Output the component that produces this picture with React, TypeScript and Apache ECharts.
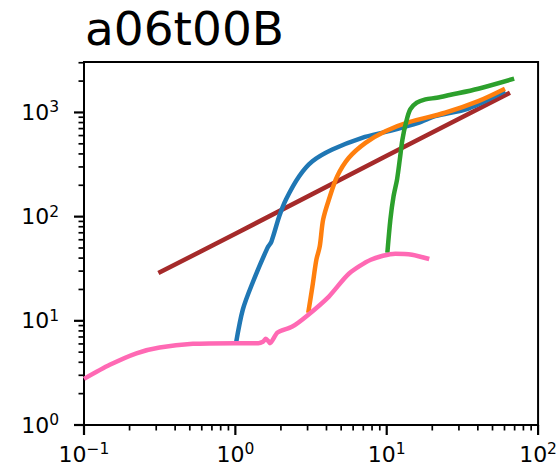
import React, { useEffect, useRef } from "react";
import * as echarts from "echarts";

const titleText = "a06t00B";

const blueX = [1.01, 1.12, 1.3, 1.63, 1.73, 1.95, 2.16, 2.64, 3.23, 4.37, 6.88, 10.3, 16.2, 20.9, 34.6, 60.4];
const blueY = [6.1, 12.8, 23.2, 50.2, 57.5, 100.7, 146, 244, 340, 441, 571, 661, 796, 921, 1091, 1603];

const orangeX = [3.03, 3.23, 3.43, 3.61, 3.8, 4.15, 4.71, 5.62, 7.24, 9.8, 14.0, 24.3, 40.3, 60.4];
const orangeY = [11.9, 21.4, 38.6, 51.8, 93.5, 146, 244, 367, 511, 661, 807, 993, 1284, 1690];

const greenX = [10.1, 10.57, 11.1, 11.7, 12.2, 12.7, 13.4, 14.3, 15.8, 18.0, 21.4, 26.0, 40.3, 69.5];
const greenY = [45, 93.5, 157, 227, 353, 550, 796, 1069, 1240, 1334, 1384, 1470, 1690, 2110];

const brownX = [0.31, 1, 10, 65.2];
const brownY = [28.7, 68.5, 385, 1549];

const pinkX = [0.1, 0.148, 0.222, 0.316, 0.524, 0.995, 1.42, 1.52, 1.59, 1.65, 1.69, 1.9, 2.38, 2.98, 4.15, 5.62, 7.85, 11.4, 14.7, 19.1];
const pinkY = [2.77, 3.78, 4.88, 5.54, 6.01, 6.1, 6.1, 6.3, 6.71, 6.4, 6.1, 7.72, 8.81, 11.2, 17.1, 28.3, 38.6, 44.1, 43.1, 39.2];

const xRange = [0.1, 100];
const yRange = [1, 3050];
const xDecades = [-1, 0, 1, 2];
const yDecades = [0, 1, 2, 3];
const minorMultipliers = [2, 3, 4, 5, 6, 7, 8, 9];

const colors = {
  blue: "#1f77b4",
  orange: "#ff7f0e",
  green: "#2ca02c",
  brown: "#a52a2a",
  pink: "#ff69b4",
};

const FONT = "DejaVu Sans";

function toLog(xs: number[], ys: number[]) {
  return xs.map((x, i) => [Math.log10(x), Math.log10(ys[i])]);
}

function expLabel(v: number) {
  if (Math.abs(v - Math.round(v)) > 1e-6) return "";
  const n = Math.round(v);
  const e = n < 0 ? "\u2212" + Math.abs(n) : String(n);
  return "{b|10}{s|" + e + "}";
}

export default function App() {
  const ref = useRef<HTMLDivElement>(null);

  useEffect(() => {
    if (!ref.current) return;
    const chart = echarts.init(ref.current, undefined, { renderer: "svg" });

    const X_MIN = Math.log10(xRange[0]);
    const X_MAX = Math.log10(xRange[1]);
    const Y_MIN = Math.log10(yRange[0]);
    const Y_MAX = Math.log10(yRange[1]);

    const rich = {
      b: { fontSize: 22, fontFamily: FONT, color: "#000", lineHeight: 26 },
      s: { fontSize: 15.5, fontFamily: FONT, color: "#000", verticalAlign: "top", lineHeight: 16 },
    };

    const lineSeries = (data: number[][], color: string, smooth: number | boolean, z: number) => ({
      type: "line",
      data,
      showSymbol: false,
      symbol: "none",
      smooth,
      z,
      lineStyle: { color, width: 4.5, cap: "butt", join: "round" },
    });

    const titleEl = {
      type: "text",
      x: 85,
      y: 28.5,
      style: {
        text: titleText,
        font: '47px "DejaVu Sans"',
        fill: "#000",
        textVerticalAlign: "middle",
      },
    };

    chart.setOption({
      animation: false,
      grid: {
        left: 84,
        top: 62,
        right: 20,
        bottom: 47,
        show: true,
        borderColor: "#000",
        borderWidth: 2,
        backgroundColor: "transparent",
      },
      graphic: [titleEl],
      xAxis: {
        type: "value",
        min: X_MIN,
        max: X_MAX,
        interval: 1,
        axisLine: { show: false },
        axisTick: { show: false },
        splitLine: { show: false },
        axisLabel: { formatter: expLabel, rich, margin: 16 },
      },
      yAxis: {
        type: "value",
        min: Y_MIN,
        max: Y_MAX,
        interval: 1,
        axisLine: { show: false },
        axisTick: { show: false },
        splitLine: { show: false },
        axisLabel: { formatter: expLabel, rich, margin: 25 },
      },
      series: [
        lineSeries(toLog(brownX, brownY), colors.brown, false, 2),
        lineSeries(toLog(blueX, blueY), colors.blue, 0.3, 3),
        lineSeries(toLog(orangeX, orangeY), colors.orange, 0.3, 4),
        lineSeries(toLog(greenX, greenY), colors.green, 0.3, 5),
        lineSeries(toLog(pinkX, pinkY), colors.pink, 0.25, 6),
      ],
    });

    // ticks (major + log-spaced minor), placed through the chart's own scales
    const ticks: any[] = [];
    const toPx = (lx: number, ly: number) => chart.convertToPixel({ gridIndex: 0 }, [lx, ly]) as number[];
    const addX = (v: number, major: boolean) => {
      const p = toPx(v, Y_MIN);
      const len = major ? 10 : 5.5;
      ticks.push({
        type: "line",
        shape: { x1: p[0], y1: p[1], x2: p[0], y2: p[1] + len },
        style: { stroke: "#000", lineWidth: major ? 2.2 : 1.7 },
      });
    };
    const addY = (v: number, major: boolean) => {
      const p = toPx(X_MIN, v);
      const len = major ? 10 : 5.5;
      ticks.push({
        type: "line",
        shape: { x1: p[0] - len, y1: p[1], x2: p[0], y2: p[1] },
        style: { stroke: "#000", lineWidth: major ? 2.2 : 1.7 },
      });
    };
    xDecades.forEach((n) => {
      addX(n, true);
      minorMultipliers.forEach((k) => {
        const v = n + Math.log10(k);
        if (v <= X_MAX + 1e-9) addX(v, false);
      });
    });
    yDecades.forEach((n) => {
      addY(n, true);
      minorMultipliers.forEach((k) => {
        const v = n + Math.log10(k);
        if (v <= Y_MAX + 1e-9) addY(v, false);
      });
    });

    chart.setOption({ graphic: [titleEl, ...ticks] });

    return () => chart.dispose();
  }, []);

  return <div ref={ref} style={{ width: 560, height: 472, position: "absolute", left: 0, top: 0 }} />;
}
